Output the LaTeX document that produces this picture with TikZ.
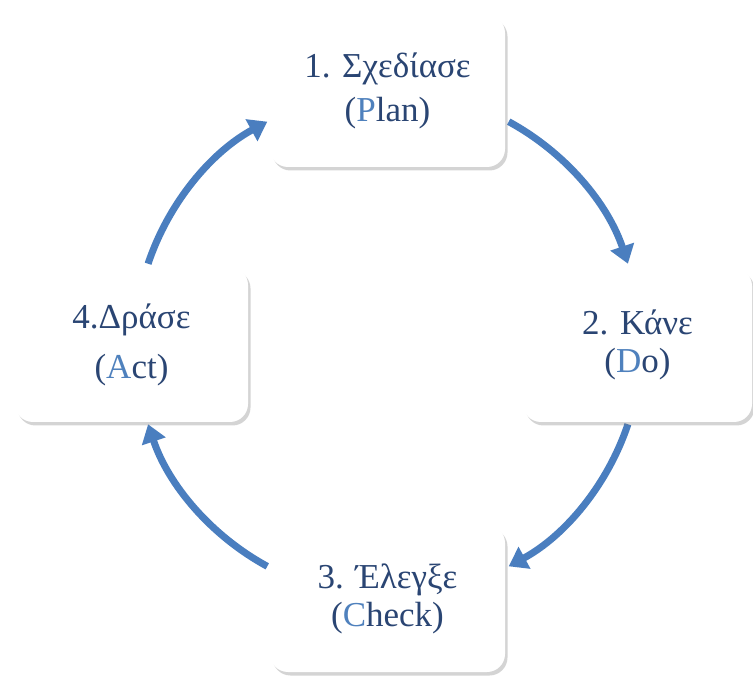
\documentclass[tikz,border=0pt]{standalone}
\usepackage{fontspec}
\setmainfont{Liberation Serif}
\usetikzlibrary{arrows.meta,shadows}
\definecolor{txtdark}{HTML}{2A4573}
\definecolor{txtlight}{HTML}{4F81BD}
\definecolor{arrowblue}{HTML}{4A7EBF}
\newcommand{\hl}[1]{\textcolor{txtlight}{#1}}
\tikzset{
  stepbox/.style={rectangle, rounded corners=18pt, fill=white, draw=none,
    inner sep=0pt, align=center, text=txtdark,
    drop shadow={shadow xshift=2.5pt, shadow yshift=-3.5pt, opacity=0.3, fill=black!55}},
  cyclearrow/.style={draw=arrowblue, line width=7pt,
    -{Triangle[width=24pt,length=18pt]}},
}
\begin{document}
\begin{tikzpicture}[x=1pt,y=-1pt]
\useasboundingbox (0,0) rectangle (753,676);
\fill[white] (0,0) rectangle (753,676);
\coordinate (c) at (388,344);
% arrows on a circle around c
\draw[cyclearrow] ([shift={(61.5:253pt)}]c) arc[start angle=61.5, end angle=18.5, radius=253pt];
\draw[cyclearrow] ([shift={(-18.5:253pt)}]c) arc[start angle=-18.5, end angle=-61.5, radius=253pt];
\draw[cyclearrow] ([shift={(-118.5:253pt)}]c) arc[start angle=-118.5, end angle=-161.5, radius=253pt];
\draw[cyclearrow] ([shift={(161.5:253pt)}]c) arc[start angle=161.5, end angle=118.5, radius=253pt];
% boxes
\node[stepbox, minimum width=235pt, minimum height=152pt, font=\fontsize{35}{44}\selectfont]
  (plan) at (387.5,91) {1. Σχεδίασε\\(\hl{P}lan)};
\node[stepbox, minimum width=229pt, minimum height=154pt, font=\fontsize{35}{38}\selectfont]
  (do) at (637.5,345) {2. Κάνε\\(\hl{D}o)};
\node[stepbox, minimum width=235pt, minimum height=147pt, font=\fontsize{35}{38}\selectfont]
  (check) at (387.5,598.5) {3. Έλεγξε\\(\hl{C}heck)};
\node[stepbox, minimum width=233pt, minimum height=155pt, font=\fontsize{35}{50}\selectfont]
  (act) at (131.5,344.5) {4.Δράσε\\(\hl{A}ct)};
\end{tikzpicture}
\end{document}
